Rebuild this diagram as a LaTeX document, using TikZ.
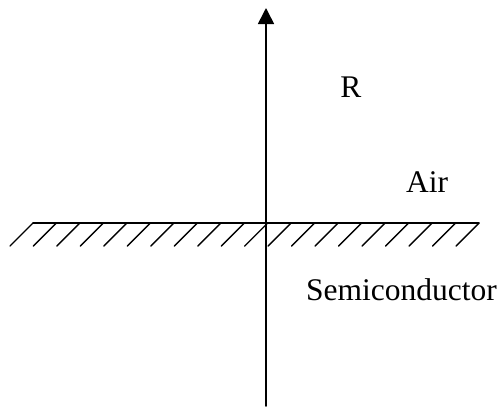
\documentclass[tikz,border=0pt]{standalone}
\usepackage{fontspec}
\setmainfont{Liberation Serif}
\usetikzlibrary{arrows.meta, calc}
\begin{document}
\begin{tikzpicture}[x=1pt, y=-1pt, line cap=round]
  \useasboundingbox (0, 0) rectangle (501, 408);
  \tikzset{label text/.style={font=\fontsize{31.5}{36}\selectfont, inner sep=0pt}}
  \def\n{19}
  \coordinate (O) at (266, 223);     % origin on the interface
  \coordinate (Top) at (266, 8);     % tip of the axis
  \coordinate (Bot) at (266, 406);   % lower end of the axis
  \coordinate (L) at (33, 223);      % left end of the interface
  \coordinate (Rt) at (479, 223);    % right end of the interface
  % Interface.
  \draw[line width=1.6pt] (L) -- (Rt);
  % Hatching below the interface.
  \foreach \k in {0,...,\n} {
    \draw[line width=1.4pt] ($(L)!\k/\n!(Rt)$) -- ++(-23, 23);
  }
  % Vertical axis.
  \draw[line width=1.6pt, -{Triangle[length=16pt, width=16pt]}] (Bot) -- (Top);
  % Labels.
  \node[label text] (r) at (351, 87) {R};
  \node[label text] (air) at (427, 182) {Air};
  \node[label text] (semi) at (401.5, 290) {Semiconductor};
\end{tikzpicture}
\end{document}
